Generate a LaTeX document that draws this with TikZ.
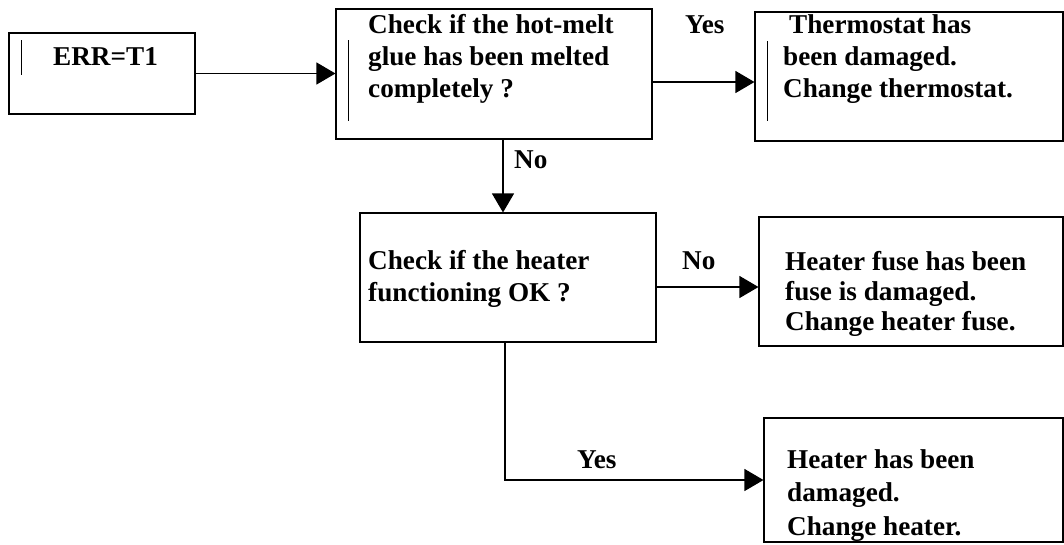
\documentclass[tikz,border=0pt]{standalone}
\usepackage{fontspec}
\setmainfont{Liberation Serif}
\usetikzlibrary{arrows.meta,calc}
\tikzset{
  box/.style={draw, line width=1.1pt, rectangle, inner sep=0pt},
  txt/.style={anchor=base west, inner sep=0pt, align=left,
    font=\fontsize{27.2}{32}\selectfont\bfseries},
  lbl/.style={anchor=base west, inner sep=0pt,
    font=\fontsize{27.2}{32}\selectfont\bfseries},
  arr/.style={line width=1.1pt, -{Triangle[length=19pt,width=22pt]}},
  cursor/.style={line width=0.9pt}
}
\begin{document}
\begin{tikzpicture}[x=1pt,y=-1pt]
\useasboundingbox (0,0) rectangle (1064,544);
% boxes
\node[box, minimum width=186pt, minimum height=81pt] (err) at (102,73.5) {};
\node[box, minimum width=316pt, minimum height=130pt] (q1) at (494,74) {};
\node[box, minimum width=308pt, minimum height=129pt] (th) at (909,76.5) {};
\node[box, minimum width=296pt, minimum height=129pt] (q2) at (508,277.5) {};
\node[box, minimum width=304pt, minimum height=129pt] (fuse) at (911,281.5) {};
\node[box, minimum width=299pt, minimum height=124pt] (ht) at (913.5,480) {};
% texts (anchor at baseline of last line)
\node[txt] (terr) at (53,65) {ERR=T1};
\node[txt] (tq1) at (368,97) {Check if the hot-melt\\glue has been melted\\completely ?};
\node[txt] (tth1) at (789,33) {Thermostat has};
\node[txt] (tth2) at (783,97) {been damaged.\\Change thermostat.};
\node[txt] (tq2) at (368,301) {Check if the heater\\functioning OK ?};
\node[txt, font=\fontsize{27.2}{30}\selectfont\bfseries] (tfuse) at (785,330) {Heater fuse has been\\fuse is damaged.\\Change heater fuse.};
\node[txt, font=\fontsize{27.2}{33.5}\selectfont\bfseries] (tht) at (787,535) {Heater has been\\damaged.\\Change heater.};
% labels
\node[lbl] (lyes1) at (685,33) {Yes};
\node[lbl] (lno1) at (514,168) {No};
\node[lbl] (lno2) at (682,269) {No};
\node[lbl] (lyes2) at (577,468) {Yes};
% connector anchors
\coordinate (c2) at ($(q1.east)+(0,8)$);
\coordinate (c3) at ($(q1.south)+(9,0)$);
\coordinate (c4) at ($(q2.east)+(0,9.5)$);
\coordinate (c5) at ($(q2.south)+(-3,0)$);
% connectors
\draw[arr] (err.east) -- (err.east -| q1.west);
\draw[arr] (c2) -- (c2 -| th.west);
\draw[arr] (c3) -- (c3 |- q2.north);
\draw[arr] (c4) -- (c4 -| fuse.west);
\draw[arr] (c5) |- (ht.west);
% text cursor marks
\draw[cursor] (21,40) -- (21,75);
\draw[cursor] (348,40) -- (348,121);
\draw[cursor] (767,41) -- (767,121);
\end{tikzpicture}
\end{document}
